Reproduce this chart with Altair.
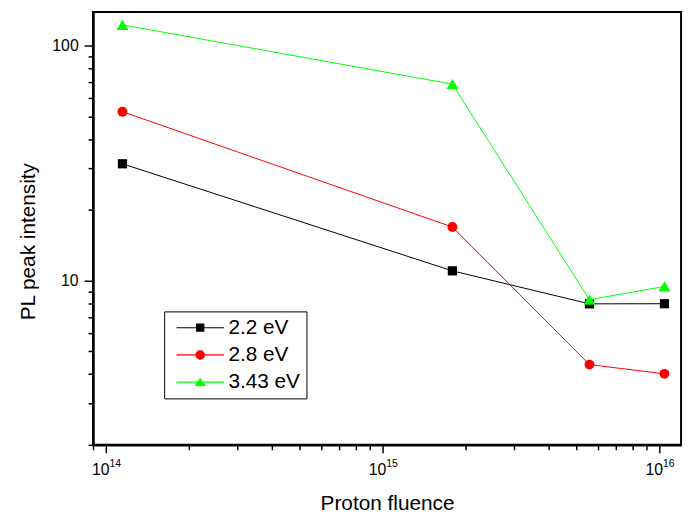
import altair as alt
import pandas as pd

# ---- data ----
series_names = ["2.2 eV", "2.8 eV", "3.43 eV"]
series_colors = ["#000000", "#ff0000", "#00ff00"]
fluence = [1.15e14, 1.79e15, 5.6e15, 1.045e16]
intensity_22 = [31.4, 11.0, 7.96, 7.97]
intensity_28 = [52.3, 16.9, 4.39, 4.01]
intensity_343 = [122.5, 68.5, 8.29, 9.44]

x_major = [1e14, 1e15, 1e16]
x_minor = [9e13, 2e14, 3e14, 4e14, 5e14, 6e14, 7e14, 8e14, 9e14,
           2e15, 3e15, 4e15, 5e15, 6e15, 7e15, 8e15, 9e15]
y_major = [10, 100]
y_minor = [2, 3, 4, 5, 6, 7, 8, 9, 20, 30, 40, 50, 60, 70, 80, 90]

rows = []
for name, vals in zip(series_names, [intensity_22, intensity_28, intensity_343]):
    for f, v in zip(fluence, vals):
        rows.append({"fluence": f, "intensity": v, "series": name})
df = pd.DataFrame(rows)

FONT = "Liberation Sans"
xs = alt.Scale(type="log", domain=[9e13, 1.2e16], nice=False)
ys = alt.Scale(type="log", domain=[2, 139], nice=False)
cs = alt.Scale(domain=series_names, range=series_colors)

common_axis = dict(grid=False, domainColor="black", domainWidth=2,
                   tickColor="black", tickWidth=1.5)

x_minor_axis = alt.Axis(orient="bottom", values=x_minor, tickSize=5,
                        labels=False, title=None, **common_axis)
y_minor_axis = alt.Axis(orient="left", values=y_minor, tickSize=5,
                        labels=False, title=None, **common_axis)

# major x ticks + axis title
x_major_axis = alt.Axis(
    orient="bottom", values=x_major, tickSize=8, labels=False,
    title="Proton fluence", titleFontSize=21, titleFontWeight="normal",
    titleBaseline="alphabetic", titleY=65, titleColor="black",
    **common_axis)
# "10" part of the labels
x_base_axis = alt.Axis(
    orient="bottom", values=x_major, ticks=False, tickSize=0, domain=False,
    labelExpr="'10'", labelAlign="right", translate=4,
    labelFontSize=16, labelPadding=27, labelBaseline="alphabetic",
    labelFlush=False, labelOverlap=False, labelColor="black",
    title=None, grid=False)
# exponent part of the labels
x_sup_axis = alt.Axis(
    orient="bottom", values=x_major, ticks=False, tickSize=0, domain=False,
    labelExpr="format(round(log(datum.value)/log(10)), 'd')",
    labelAlign="left", translate=4,
    labelFontSize=10.5, labelPadding=18.5, labelBaseline="alphabetic",
    labelFlush=False, labelOverlap=False, labelColor="black",
    title=None, grid=False)
y_major_axis = alt.Axis(
    orient="left", values=y_major, tickSize=9,
    labelExpr="format(datum.value, 'd')",
    labelFontSize=16, labelPadding=6, labelFlush=False, labelOverlap=False,
    labelColor="black",
    title="PL peak intensity", titleFontSize=21, titleFontWeight="normal",
    titleAngle=270, titleBaseline="alphabetic", titleAlign="center",
    titleX=-59, titleY=232, titleColor="black",
    **common_axis)

base = alt.Chart(df)

marker_shapes = ["square", "circle", "triangle-up"]
marker_sizes = [87, 100, 144]
line_x_axes = [x_minor_axis, x_base_axis, None]
pts_x_axes = [x_major_axis, x_sup_axis, None]
layers = []
for i, (name, col, shp, sz) in enumerate(zip(series_names, series_colors, marker_shapes, marker_sizes)):
    sub = base.transform_filter(alt.datum.series == name)
    line = sub.mark_line(strokeWidth=1, color=col).encode(
        x=alt.X("fluence:Q", scale=xs, axis=line_x_axes[i]),
        y=alt.Y("intensity:Q", scale=ys, axis=y_minor_axis if i == 0 else None),
    )
    pts = sub.mark_point(shape=shp, filled=True, size=sz, color=col, opacity=1).encode(
        x=alt.X("fluence:Q", scale=xs, axis=pts_x_axes[i]),
        y=alt.Y("intensity:Q", scale=ys, axis=y_major_axis if i == 0 else None),
    )
    layers += [line, pts]

# legend symbols: line segment with marker in the middle (unit = 4px)
legend_paths = [
    "M-6,-0.15H6V0.15H-6Z M-1.05,-1.05H1.05V1.05H-1.05Z",
    "M-6,-0.15H6V0.15H-6Z M-1.2,0A1.2,1.2 0 1,1 1.2,0A1.2,1.2 0 1,1 -1.2,0Z",
    "M-6,-0.15H6V0.15H-6Z M0,-1.1L1.45,1L-1.45,1Z",
]
leg = alt.Legend(
    orient="none", legendX=72, legendY=303, title=None,
    labelFontSize=21, labelFont=FONT, labelColor="black",
    symbolSize=64, symbolStrokeWidth=0, symbolOffset=20, labelOffset=18,
    padding=6, rowPadding=5.5, strokeColor="black", fillColor="white",
    cornerRadius=0, symbolOpacity=1,
)
legend_layer = base.transform_filter("false").mark_point(filled=True, opacity=1).encode(
    color=alt.Color("series:N", scale=cs, legend=leg),
    shape=alt.Shape("series:N", scale=alt.Scale(domain=series_names, range=legend_paths), legend=leg),
)

chart = alt.layer(*layers, legend_layer).resolve_axis(
    x="independent", y="independent"
).properties(
    width=595, height=438,
    padding={"left": 86, "top": 1, "right": 5, "bottom": 68},
    autosize=alt.AutoSizeParams(type="none"),
).configure_view(
    stroke="black", strokeWidth=2
).configure_axis(
    labelFont=FONT, titleFont=FONT
).configure_legend(
    labelFont=FONT
)

chart.save("out.html", embed_options={"renderer": "svg", "actions": False})
